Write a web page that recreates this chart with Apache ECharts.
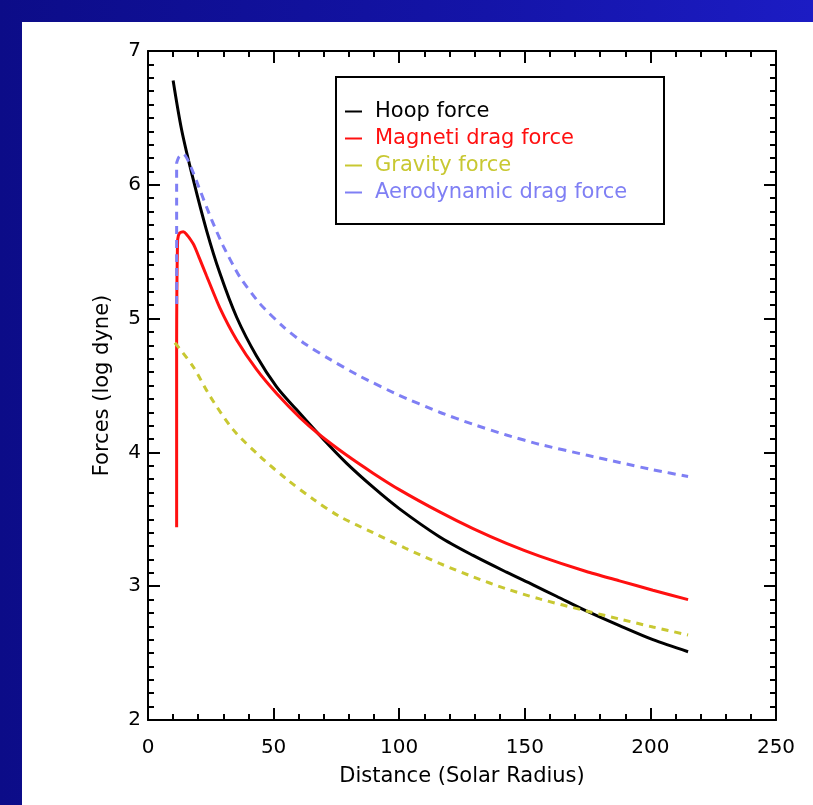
<!DOCTYPE html>
<html>
<head>
<meta charset="utf-8">
<script src="https://cdn.jsdelivr.net/npm/echarts@6/dist/echarts.min.js"></script>
<style>
  html, body { margin: 0; padding: 0; }
  body {
    width: 813px; height: 805px; overflow: hidden; position: relative;
    background: linear-gradient(90deg, #0c0c88 0%, #1414a8 60%, #1c1cc4 100%);
  }
  #panel { position: absolute; left: 22px; top: 22px; right: 0; bottom: 0; background: #fff; }
  #chart { position: absolute; left: 0; top: 0; width: 813px; height: 805px; }
</style>
</head>
<body>
<div id="panel"></div>
<div id="chart"></div>
<script>
// Distance (solar radius) / log force values
const hoopX = [10, 13.4, 18, 23.3, 28.6, 35.3, 43.2, 51.2, 59.1, 69.7, 79, 89.6, 100, 116, 129.4, 142.7, 153.3, 162.6, 174.5, 187.7, 201, 215];
const hoopY = [6.78, 6.41, 6.04, 5.66, 5.34, 5.01, 4.72, 4.49, 4.32, 4.10, 3.92, 3.74, 3.58, 3.37, 3.23, 3.105, 3.01, 2.925, 2.815, 2.705, 2.60, 2.51];

const magX = [11.4, 11.4, 11.8, 12.6, 14.0, 18.0, 20.5, 23.3, 28.6, 35.3, 43.2, 51.2, 60.5, 68.4, 79.0, 89.6, 100.2, 116.1, 129.4, 142.7, 155.9, 174.5, 187.7, 201.0, 215];
const magY = [3.44, 4.73, 5.59, 5.64, 5.65, 5.56, 5.45, 5.32, 5.08, 4.84, 4.62, 4.44, 4.26, 4.13, 3.98, 3.845, 3.72, 3.555, 3.43, 3.32, 3.225, 3.11, 3.04, 2.97, 2.90];

const gravX = [10.7, 18.0, 24.7, 33.9, 44.6, 55.2, 65.8, 76.4, 89.6, 102.9, 116.1, 129.4, 142.7, 155.9, 174.5, 187.7, 201.0, 215];
const gravY = [4.82, 4.64, 4.42, 4.17, 3.97, 3.80, 3.65, 3.52, 3.40, 3.28, 3.17, 3.07, 2.98, 2.905, 2.815, 2.755, 2.695, 2.635];

const aeroX = [11.4, 11.4, 12.4, 14.2, 16.5, 20.7, 25.3, 30.0, 36.6, 44.6, 53.8, 61.8, 71.1, 84.3, 99.6, 116.1, 129.4, 142.7, 155.9, 174.5, 187.7, 201.0, 215];
const aeroY = [5.11, 6.16, 6.21, 6.23, 6.16, 5.96, 5.74, 5.54, 5.31, 5.11, 4.94, 4.82, 4.71, 4.57, 4.43, 4.30, 4.21, 4.13, 4.06, 3.98, 3.925, 3.87, 3.82];

const seriesNames = ['Hoop force', 'Magneti drag force', 'Gravity force', 'Aerodynamic drag force'];
const seriesColors = ['#000000', '#ff1010', '#c8c832', '#7f7ff4'];

const pairs = (xs, ys) => xs.map((x, i) => [x, ys[i]]);
const font = 'DejaVu Sans';

const chart = echarts.init(document.getElementById('chart'), null, { renderer: 'canvas' });

const tickCommon = {
    axisLine: { show: true, onZero: false, lineStyle: { color: '#000', width: 2 } },
    axisTick: { show: true, inside: true, length: 12, lineStyle: { color: '#000', width: 2 } },
    minorTick: { show: true, length: 6, lineStyle: { color: '#000', width: 2 } },
    splitLine: { show: false },
};

chart.setOption({
    animation: false,
    backgroundColor: 'transparent',
    grid: { left: 148, top: 51, width: 628, height: 669, containLabel: false },
    xAxis: [
        {
            type: 'value', min: 0, max: 250, interval: 50,
            name: 'Distance (Solar Radius)', nameLocation: 'middle', nameGap: 46,
            nameTextStyle: { color: '#000', fontFamily: font, fontSize: 21 },
            axisLabel: { color: '#000', fontFamily: font, fontSize: 20, margin: 18 },
            ...tickCommon,
            minorTick: { ...tickCommon.minorTick, splitNumber: 5 },
        },
        {
            type: 'value', min: 0, max: 250, interval: 50, position: 'top',
            axisLabel: { show: false },
            ...tickCommon,
            minorTick: { ...tickCommon.minorTick, splitNumber: 5 },
        },
    ],
    yAxis: [
        {
            type: 'value', min: 2, max: 7, interval: 1,
            name: 'Forces (log dyne)', nameLocation: 'middle', nameGap: 35,
            nameTextStyle: { color: '#000', fontFamily: font, fontSize: 21 },
            axisLabel: { color: '#000', fontFamily: font, fontSize: 20, margin: 7 },
            ...tickCommon,
            minorTick: { ...tickCommon.minorTick, splitNumber: 10 },
        },
        {
            type: 'value', min: 2, max: 7, interval: 1, position: 'right',
            axisLabel: { show: false },
            ...tickCommon,
            minorTick: { ...tickCommon.minorTick, splitNumber: 10 },
        },
    ],
    legend: {
        orient: 'vertical',
        left: 336, top: 77,
        padding: [24, 3, 21, 9],
        itemGap: 6,
        icon: 'rect',
        itemWidth: 17, itemHeight: 2,
        borderColor: '#000', borderWidth: 2, borderRadius: 0,
        backgroundColor: '#fff',
        selectedMode: false,
        textStyle: { fontFamily: font, fontSize: 21, lineHeight: 21, width: 286, padding: [0, 0, 0, 8] },
        data: seriesNames.map((n, i) => ({ name: n, textStyle: { color: seriesColors[i] } })),
    },
    series: [
        {
            name: seriesNames[0], type: 'line', data: pairs(hoopX, hoopY),
            symbol: 'none', smooth: 0.3, color: seriesColors[0],
            lineStyle: { color: seriesColors[0], width: 3 },
        },
        {
            name: seriesNames[1], type: 'line', data: pairs(magX, magY),
            symbol: 'none', smooth: 0.2, color: seriesColors[1],
            lineStyle: { color: seriesColors[1], width: 3 },
        },
        {
            name: seriesNames[2], type: 'line', data: pairs(gravX, gravY),
            symbol: 'none', smooth: 0.3, color: seriesColors[2],
            lineStyle: { color: seriesColors[2], width: 3, type: [7, 6] },
        },
        {
            name: seriesNames[3], type: 'line', data: pairs(aeroX, aeroY),
            symbol: 'none', smooth: 0.2, color: seriesColors[3],
            lineStyle: { color: seriesColors[3], width: 3, type: [8, 6] },
        },
    ],
});
</script>
</body>
</html>
